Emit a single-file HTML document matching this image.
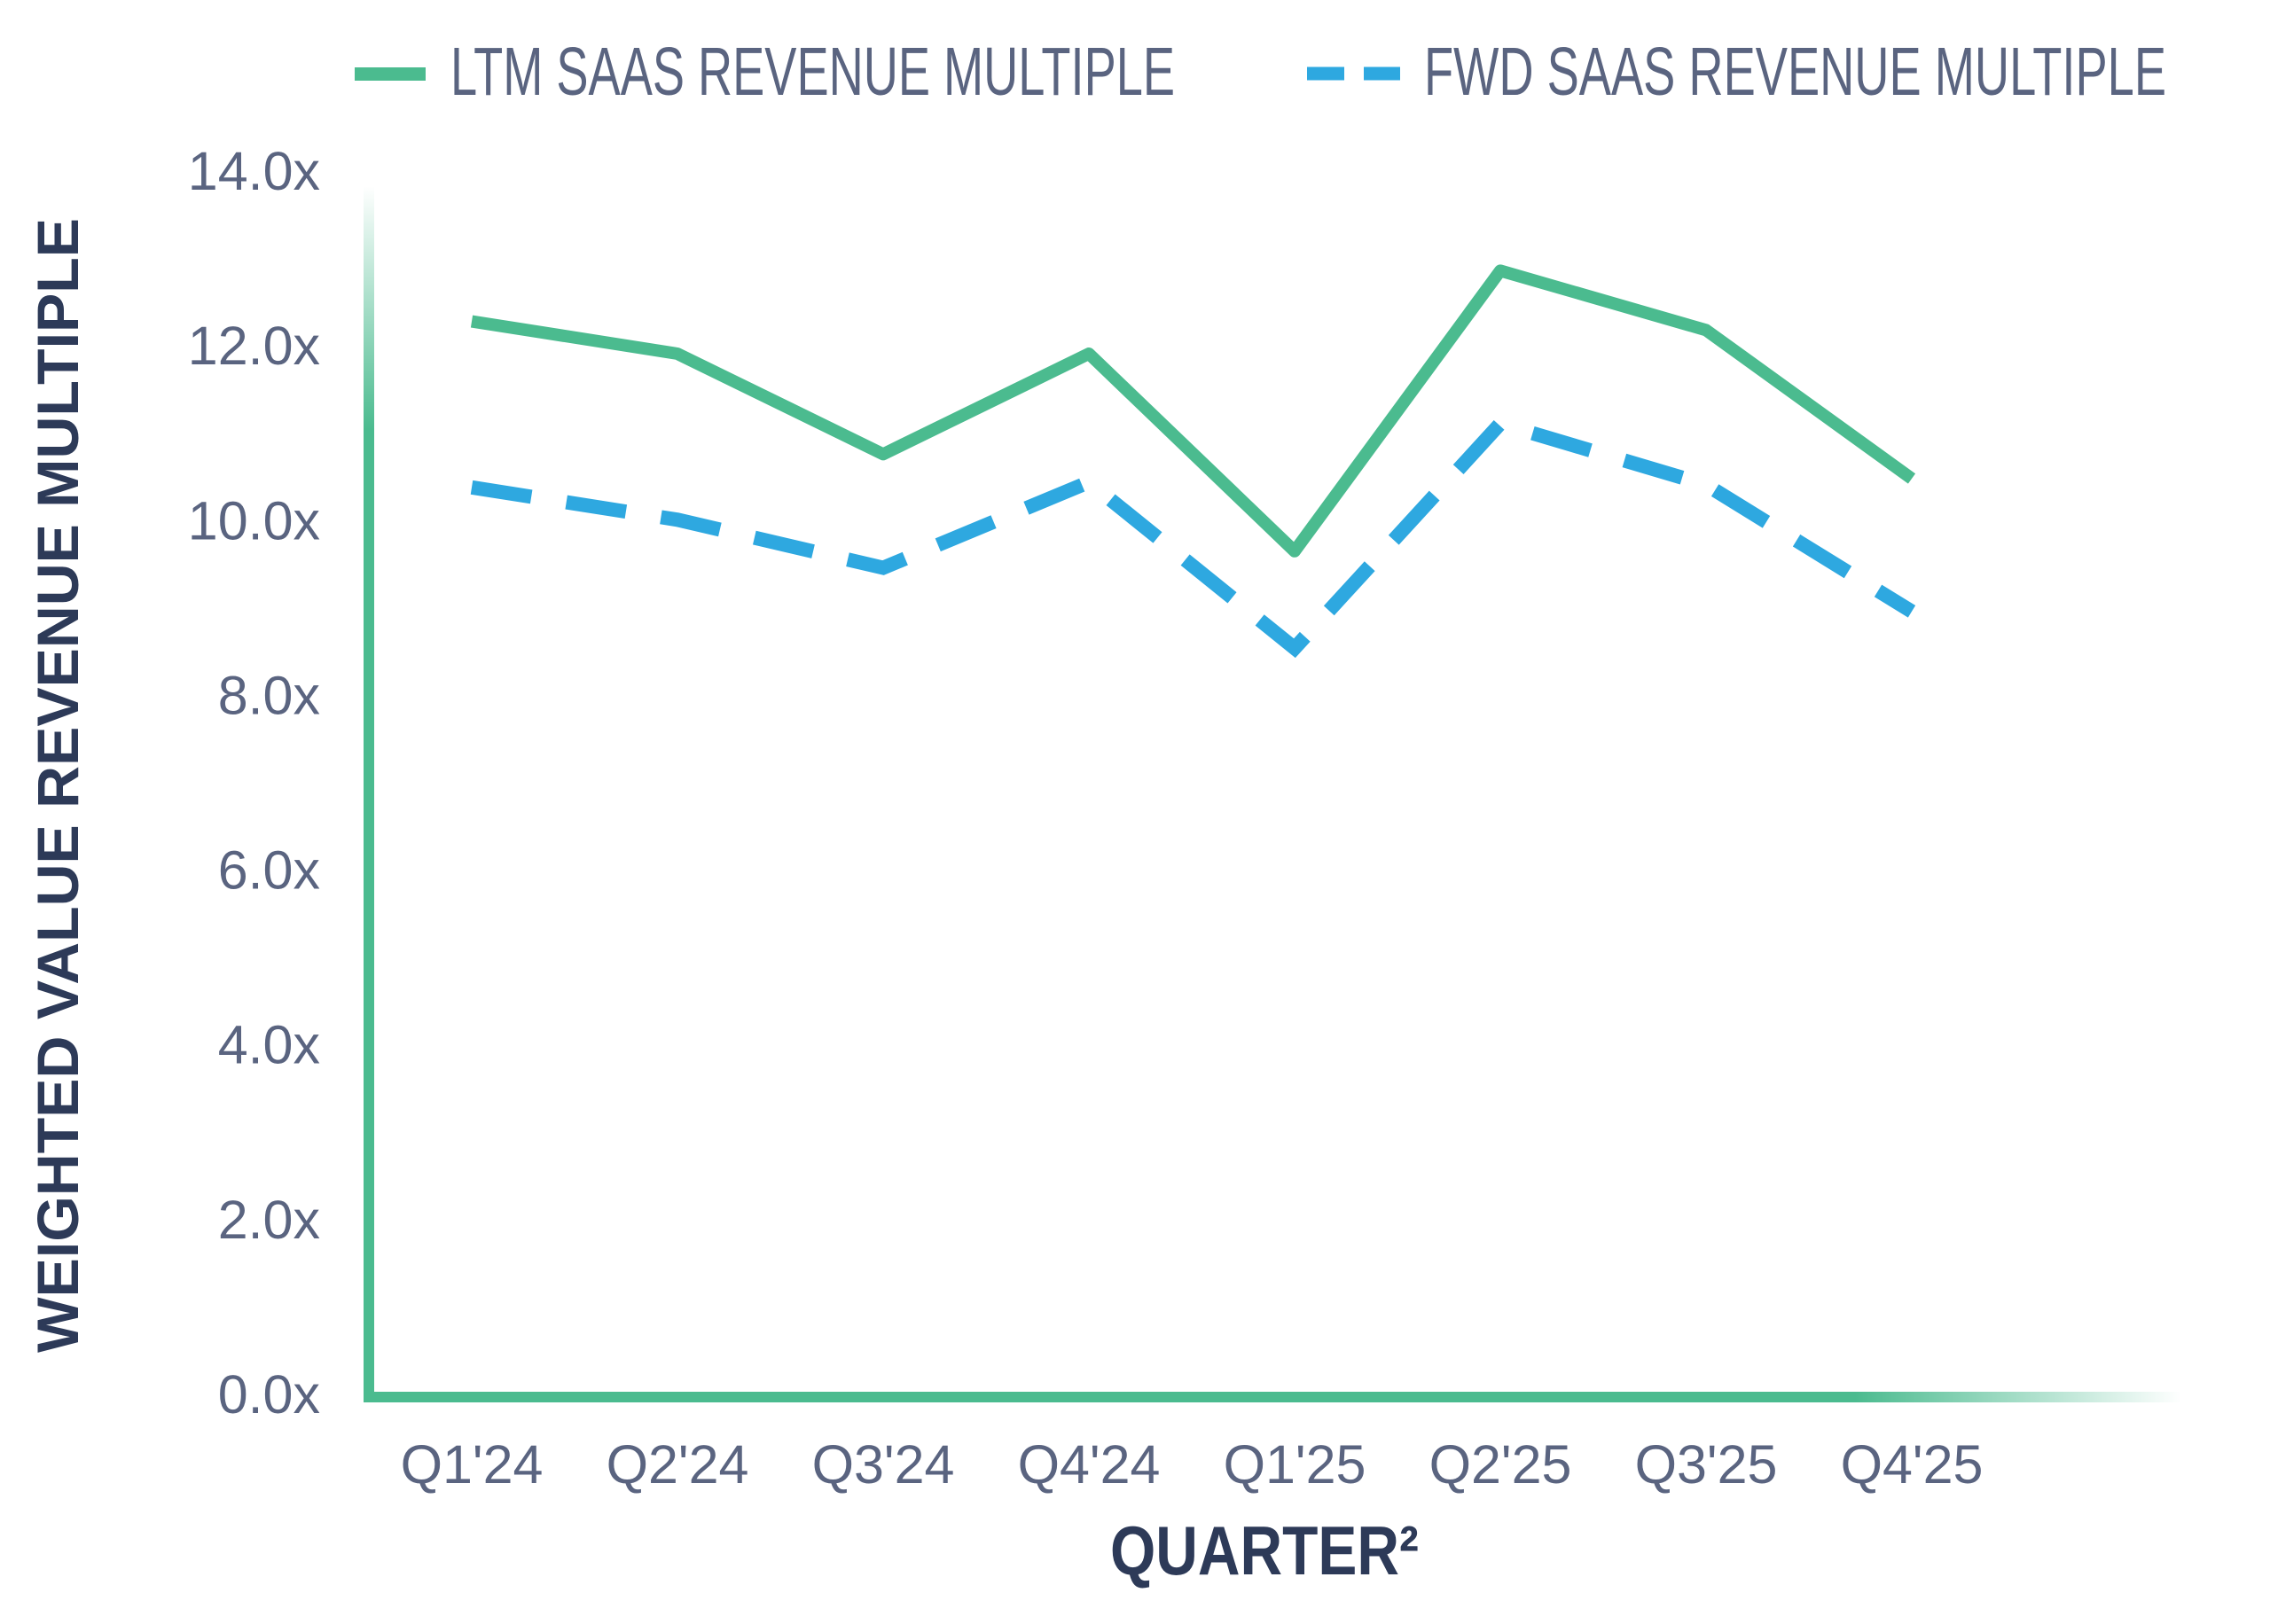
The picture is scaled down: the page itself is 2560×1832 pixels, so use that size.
<!DOCTYPE html>
<html><head><meta charset="utf-8"><style>
html,body{margin:0;padding:0;background:#fff;}
svg{display:block;}
text{font-family:"Liberation Sans Narrow","Liberation Sans",sans-serif;}
</style></head><body>
<svg id="chart" width="2560" height="1832" viewBox="0 0 2560 1832">
<defs>
<linearGradient id="vfade" x1="0" y1="0" x2="0" y2="1">
<stop offset="0" stop-color="#4bbb8f" stop-opacity="0"/>
<stop offset="0.2" stop-color="#4bbb8f" stop-opacity="1"/>
<stop offset="1" stop-color="#4bbb8f" stop-opacity="1"/>
</linearGradient>
<linearGradient id="hfade" x1="0" y1="0" x2="1" y2="0">
<stop offset="0" stop-color="#4bbb8f" stop-opacity="1"/>
<stop offset="0.82" stop-color="#4bbb8f" stop-opacity="1"/>
<stop offset="1" stop-color="#4bbb8f" stop-opacity="0"/>
</linearGradient>
</defs>
<g>
<rect x="400" y="76" width="80" height="15" fill="#4bbb8f"/>
<text x="508" y="107" font-size="77" fill="#5a6480" textLength="817" lengthAdjust="spacingAndGlyphs">LTM SAAS REVENUE MULTIPLE</text>
<line x1="1474" y1="83" x2="1579" y2="83" stroke="#2ea8e0" stroke-width="15" stroke-dasharray="42,22"/>
<text x="1606" y="107" font-size="77" fill="#5a6480" textLength="837" lengthAdjust="spacingAndGlyphs">FWD SAAS REVENUE MULTIPLE</text>
</g>
<text transform="translate(88,886) rotate(-90)" text-anchor="middle" font-size="66" font-weight="bold" fill="#2d3a58" textLength="1280" lengthAdjust="spacingAndGlyphs" style="font-family:'Liberation Sans',sans-serif">WEIGHTED VALUE REVENUE MULTIPLE</text>
<text x="1426" y="1776" text-anchor="middle" font-size="78" font-weight="bold" fill="#2d3a58" textLength="348" lengthAdjust="spacingAndGlyphs">QUARTER²</text>
<g id="yticks"></g>
<g id="xticks"></g>
<rect x="410" y="210" width="12" height="1372" fill="url(#vfade)"/>
<rect x="416" y="1570" width="2044" height="12" fill="url(#hfade)"/>
<g id="series"></g>
</svg>
<script>
const categories = ["Q1'24","Q2'24","Q3'24","Q4'24","Q1'25","Q2'25","Q3'25","Q4'25"];
const ltmValues = [12.27, 11.9, 10.75, 11.9, 9.64, 12.85, 12.17, 10.47];
const fwdValues = [10.37, 10.0, 9.45, 10.43, 8.53, 11.1, 10.4, 8.95];
const yTickValues = [0, 2, 4, 6, 8, 10, 12, 14];
const yTickLabels = ["0.0x","2.0x","4.0x","6.0x","8.0x","10.0x","12.0x","14.0x"];

const NS = "http://www.w3.org/2000/svg";
function yScale(v){ return 1572 - v * (1572 - 192) / 14; }
function xScale(i){ return 532 + i * 232; }

const yg = document.getElementById('yticks');
yTickValues.forEach((v, i) => {
  const t = document.createElementNS(NS, 'text');
  t.setAttribute('x', 361);
  t.setAttribute('y', yScale(v) + 22);
  t.setAttribute('text-anchor', 'end');
  t.setAttribute('font-size', '61');
  t.setAttribute('fill', '#5a6480');
  t.textContent = yTickLabels[i];
  
  
  yg.appendChild(t);
});
const xg = document.getElementById('xticks');
categories.forEach((c, i) => {
  const t = document.createElementNS(NS, 'text');
  t.setAttribute('x', xScale(i));
  t.setAttribute('y', 1673);
  t.setAttribute('text-anchor', 'middle');
  t.setAttribute('font-size', '61');
  t.setAttribute('fill', '#5a6480');
  t.textContent = c;
  
  
  xg.appendChild(t);
});
const sg = document.getElementById('series');
function pts(vals){ return vals.map((v, i) => xScale(i) + ',' + yScale(v)).join(' '); }
const ltm = document.createElementNS(NS, 'polyline');
ltm.setAttribute('points', pts(ltmValues));
ltm.setAttribute('fill', 'none');
ltm.setAttribute('stroke', '#4bbb8f');
ltm.setAttribute('stroke-width', '14');
ltm.setAttribute('stroke-linejoin', 'round');


sg.appendChild(ltm);
const fwd = document.createElementNS(NS, 'polyline');
fwd.setAttribute('points', pts(fwdValues));
fwd.setAttribute('fill', 'none');
fwd.setAttribute('stroke', '#2ea8e0');
fwd.setAttribute('stroke-width', '16');
fwd.setAttribute('stroke-dasharray', '68,40');


sg.appendChild(fwd);
</script>
</body></html>
